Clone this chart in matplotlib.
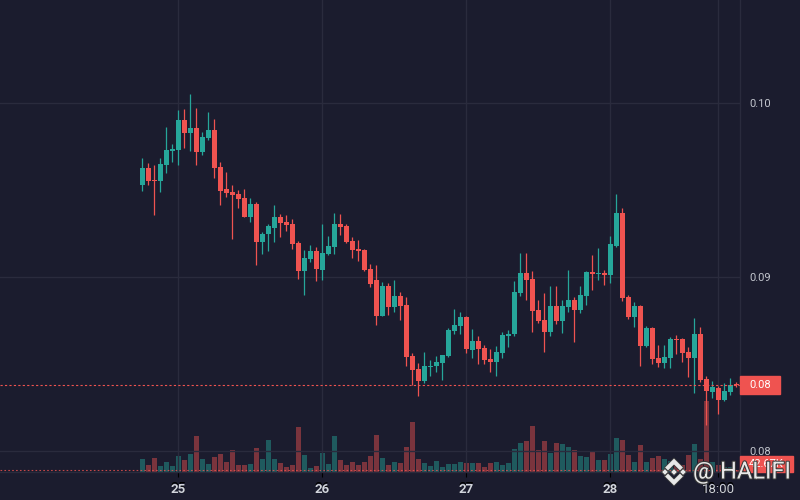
import numpy as np
import matplotlib
matplotlib.use("Agg")
import matplotlib.pyplot as plt
from matplotlib.patches import Rectangle, Polygon
from matplotlib.transforms import blended_transform_factory
import matplotlib.patheffects as pe

plt.rcParams['font.family'] = ['Roboto', 'DejaVu Sans']

BG = '#1b1c2e'
GRID = '#2a2b3d'
UP = '#26a69a'
DOWN = '#ef5350'
TEXT = '#c3c6ce'

# hourly candles, first one on the 24th at 18:00
start_day = 24
start_hour = 18

opens = [0.09529, 0.09625, 0.09556, 0.09552, 0.09644, 0.09722, 0.09728, 0.09900, 0.09828, 0.09854,
         0.09717, 0.09797, 0.09843, 0.09630, 0.09504, 0.09487, 0.09476, 0.09453, 0.09344, 0.09418,
         0.09201, 0.09246, 0.09281, 0.09344, 0.09315, 0.09304, 0.09195, 0.09034, 0.09103, 0.09149,
         0.09040, 0.09132, 0.09172, 0.09304, 0.09292, 0.09206, 0.09160, 0.09155, 0.09046, 0.08983,
         0.08777, 0.08949, 0.08828, 0.08891, 0.08840, 0.08547, 0.08473, 0.08404, 0.08484, 0.08490,
         0.08507, 0.08547, 0.08690, 0.08719, 0.08771, 0.08582, 0.08633, 0.08593, 0.08530, 0.08513,
         0.08564, 0.08662, 0.08673, 0.08908, 0.09023, 0.08989, 0.08811, 0.08754, 0.08685, 0.08834,
         0.08748, 0.08828, 0.08868, 0.08811, 0.08891, 0.09029, 0.09017, 0.09023, 0.09011, 0.09178,
         0.09367, 0.08886, 0.08771, 0.08834, 0.08604, 0.08708, 0.08536, 0.08507, 0.08536, 0.08645,
         0.08645, 0.08570, 0.08536, 0.08673, 0.08415, 0.08341, 0.08364, 0.08295, 0.08341, 0.08387]
highs = [0.09680, 0.09652, 0.09642, 0.09680, 0.09860, 0.09762, 0.09957, 0.09963, 0.10049, 0.09969,
         0.09831, 0.09946, 0.09906, 0.09659, 0.09602, 0.09527, 0.09499, 0.09504, 0.09453, 0.09430,
         0.09258, 0.09304, 0.09413, 0.09361, 0.09355, 0.09332, 0.09206, 0.09155, 0.09183, 0.09172,
         0.09304, 0.09235, 0.09367, 0.09361, 0.09304, 0.09229, 0.09212, 0.09158, 0.09075, 0.09068,
         0.08971, 0.08966, 0.08983, 0.08914, 0.08886, 0.08564, 0.08507, 0.08570, 0.08524, 0.08547,
         0.08553, 0.08708, 0.08817, 0.08800, 0.08774, 0.08702, 0.08662, 0.08610, 0.08587, 0.08604,
         0.08685, 0.08696, 0.08977, 0.09138, 0.09138, 0.09034, 0.08868, 0.08908, 0.08949, 0.08949,
         0.08868, 0.09040, 0.08886, 0.08949, 0.09034, 0.09126, 0.09166, 0.09040, 0.09235, 0.09476,
         0.09396, 0.08897, 0.08857, 0.08840, 0.08719, 0.08711, 0.08610, 0.08610, 0.08656, 0.08668,
         0.08648, 0.08599, 0.08765, 0.08713, 0.08433, 0.08404, 0.08375, 0.08393, 0.08421, 0.08398]
lows = [0.09495, 0.09527, 0.09355, 0.09489, 0.09598, 0.09661, 0.09642, 0.09741, 0.09722, 0.09642,
        0.09700, 0.09785, 0.09567, 0.09413, 0.09459, 0.09218, 0.09396, 0.09344, 0.09315, 0.09068,
        0.09132, 0.09149, 0.09201, 0.09229, 0.09264, 0.09160, 0.08988, 0.08897, 0.09086, 0.08977,
        0.08983, 0.09126, 0.09132, 0.09241, 0.09195, 0.09109, 0.09092, 0.09037, 0.08943, 0.08725,
        0.08774, 0.08782, 0.08800, 0.08754, 0.08490, 0.08381, 0.08318, 0.08393, 0.08433, 0.08456,
        0.08410, 0.08541, 0.08673, 0.08673, 0.08564, 0.08536, 0.08501, 0.08501, 0.08456, 0.08433,
        0.08536, 0.08599, 0.08662, 0.08891, 0.08868, 0.08685, 0.08736, 0.08570, 0.08662, 0.08731,
        0.08679, 0.08800, 0.08628, 0.08794, 0.08840, 0.08926, 0.08983, 0.08954, 0.08966, 0.09172,
        0.08863, 0.08759, 0.08713, 0.08490, 0.08601, 0.08501, 0.08484, 0.08479, 0.08479, 0.08559,
        0.08513, 0.08427, 0.08335, 0.08398, 0.08152, 0.08307, 0.08215, 0.08292, 0.08324, 0.08370]
closes = [0.09625, 0.09552, 0.09552, 0.09648, 0.09728, 0.09734, 0.09900, 0.09828, 0.09854, 0.09717,
          0.09803, 0.09843, 0.09625, 0.09493, 0.09481, 0.09470, 0.09447, 0.09344, 0.09418, 0.09201,
          0.09246, 0.09292, 0.09344, 0.09310, 0.09298, 0.09189, 0.09034, 0.09109, 0.09149, 0.09046,
          0.09138, 0.09178, 0.09304, 0.09287, 0.09201, 0.09155, 0.09149, 0.09040, 0.08960, 0.08777,
          0.08949, 0.08828, 0.08891, 0.08834, 0.08541, 0.08467, 0.08404, 0.08490, 0.08490, 0.08513,
          0.08553, 0.08696, 0.08725, 0.08771, 0.08587, 0.08633, 0.08587, 0.08524, 0.08513, 0.08570,
          0.08668, 0.08673, 0.08914, 0.09023, 0.08983, 0.08805, 0.08748, 0.08685, 0.08834, 0.08748,
          0.08834, 0.08868, 0.08811, 0.08897, 0.09029, 0.09017, 0.09023, 0.09011, 0.09189, 0.09367,
          0.08880, 0.08771, 0.08834, 0.08604, 0.08708, 0.08530, 0.08507, 0.08541, 0.08645, 0.08639,
          0.08564, 0.08536, 0.08673, 0.08410, 0.08347, 0.08370, 0.08295, 0.08347, 0.08381, 0.08381]
# volume in thousands
volumes = [254, 134, 274, 114, 194, 114, 314, 234, 354, 714,
           254, 154, 294, 354, 194, 434, 134, 134, 154, 474,
           254, 634, 254, 174, 94, 134, 894, 334, 74, 114,
           374, 154, 714, 234, 134, 194, 134, 194, 314, 734,
           274, 134, 194, 174, 494, 994, 254, 174, 114, 214,
           94, 154, 154, 194, 174, 174, 174, 94, 174, 194,
           134, 174, 454, 574, 614, 914, 434, 614, 374, 574,
           554, 494, 434, 314, 294, 414, 234, 234, 354, 674,
           634, 334, 194, 534, 194, 274, 314, 254, 214, 114,
           134, 334, 554, 254, 1420, 194, 140, 94, 94, 42.67]

price_ticks = [0.08, 0.09, 0.10]

o = np.array(opens)
h = np.array(highs)
l = np.array(lows)
c = np.array(closes)
n = len(o)
x = np.arange(n)
colors = np.where(c >= o, UP, DOWN)

# time ticks: midnight of each day plus a late 18:00 mark
hod = (start_hour + x) % 24
day_pos = list(x[hod == 0])
day_lab = [str(start_day + (start_hour + p) // 24) for p in day_pos]
late = x[(hod == 18) & (x > day_pos[-1])]
tick_pos = day_pos + list(late)
tick_lab = day_lab + ['18:00'] * len(late)

W, H = 800, 500
plot_w, plot_h = 740, 472
fig = plt.figure(figsize=(8, 5), dpi=100, facecolor=BG)
rect = [0, 1 - plot_h / H, plot_w / W, plot_h / H]

vax = fig.add_axes(rect)
vax.set_facecolor(BG)
vax.bar(x, volumes, width=0.82, color=colors, alpha=0.45, linewidth=0)
vax.axhline(volumes[-1], color=DOWN, lw=0.8, ls=(0, (1.5, 2)), alpha=0.8)
vax.set_ylim(0, 9440)
vax.set_yticks([])
vax.set_xticks([])
for s in vax.spines.values():
    s.set_visible(False)

ax = fig.add_axes(rect, sharex=vax)
ax.set_facecolor('none')
ax.vlines(x, l, h, color=colors, lw=0.9)
body_lo = np.minimum(o, c)
body_h = np.maximum(np.abs(c - o), 0.00006)
ax.bar(x, body_h, bottom=body_lo, width=0.82, color=colors, linewidth=0)
ax.axhline(c[-1], color=DOWN, lw=0.8, ls=(0, (2, 2)))

ax.set_xlim(-23.72, 99.62)
ax.set_ylim(0.078825, 0.105875)
ax.set_yticks(price_ticks, [f'{t:.2f}' for t in price_ticks])
ax.set_xticks(tick_pos, tick_lab)
ax.grid(True, color=GRID, lw=1)
ax.set_axisbelow(True)
ax.tick_params(axis='y', left=False, labelleft=False, right=True, labelright=True,
               length=0, pad=7, labelsize=8, colors=TEXT)
ax.tick_params(axis='x', length=0, pad=8, labelsize=9.5, colors='#d1d4dc')
for lbl in ax.get_xticklabels():
    if ':' not in lbl.get_text():
        lbl.set_fontweight('bold')
for side in ['top', 'left']:
    ax.spines[side].set_visible(False)
for side in ['right', 'bottom']:
    ax.spines[side].set_color(GRID)
    ax.spines[side].set_linewidth(1)

# last price label box on the price scale
px = (0.105875 - 0.078825) / plot_h
tr = blended_transform_factory(ax.transAxes, ax.transData)
ax.add_patch(Rectangle((1.0, c[-1] - 9 * px), 40 / plot_w, 18 * px, transform=tr,
                       color=DOWN, clip_on=False, zorder=5))
ax.text(1.0 + 20 / plot_w, c[-1], f'{c[-1]:.2f}', transform=tr, ha='center', va='center',
        color='white', fontsize=8, zorder=6)

# last volume label box
fig.patches.append(Rectangle((740 / W, 1 - 472 / H), 53 / W, 16 / H, transform=fig.transFigure,
                             color=DOWN, zorder=5))
fig.text(766.5 / W, 1 - 464 / H, f'{volumes[-1]:.2f}K', ha='center', va='center',
         color='white', fontsize=8, zorder=6)


# watermark
def fp(px_x, px_y):
    return ((674 + px_x) / W, 1 - (472 - px_y) / H)


shapes = [
    [(0, 3.5), (3.5, 0), (0, -3.5), (-3.5, 0)],
    [(-9, 3.5), (-5.5, 0), (-9, -3.5), (-12.5, 0)],
    [(9, 3.5), (12.5, 0), (9, -3.5), (5.5, 0)],
    [(0, 14), (9.5, 4.5), (6, 1), (0, 7), (-6, 1), (-9.5, 4.5)],
    [(0, -14), (9.5, -4.5), (6, -1), (0, -7), (-6, -1), (-9.5, -4.5)],
]
for pts in shapes:
    fig.patches.append(Polygon([fp(*p) for p in pts], closed=True, transform=fig.transFigure,
                               facecolor='#e8e8e8', edgecolor='#3a3a3a', lw=0.6, zorder=10))
fig.text(693 / W, 1 - 472 / H, '@ HALIFI', ha='left', va='center', fontsize=17,
         color='#e8e8e8', zorder=11,
         path_effects=[pe.withStroke(linewidth=1.5, foreground='#3a3a3a')])

fig.savefig('out.png', dpi=100, facecolor=BG)
